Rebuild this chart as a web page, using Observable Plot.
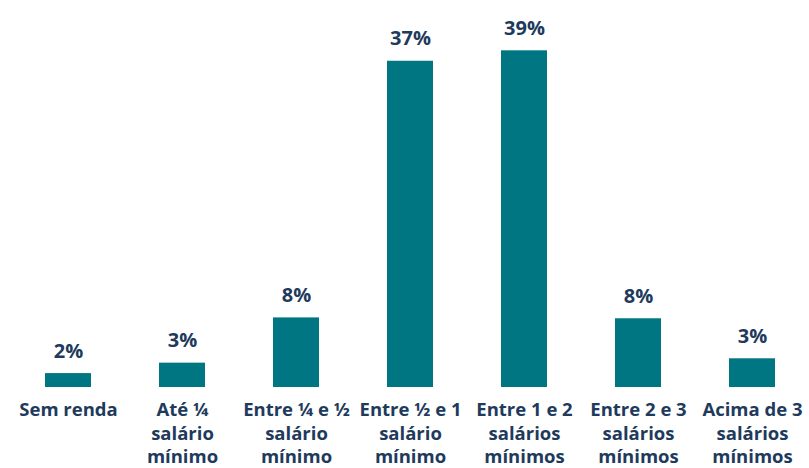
<!DOCTYPE html>
<html>
<head>
<meta charset="utf-8">
<script src="https://cdn.jsdelivr.net/npm/d3@7"></script>
<script src="https://cdn.jsdelivr.net/npm/@observablehq/plot@0.6"></script>
<style>
  html, body { margin: 0; padding: 0; background: #fff; }
  #chart { width: 809px; height: 468px; }
</style>
</head>
<body>
<div id="chart"></div>
<script>
const categories = [
  "Sem renda",
  "Até ¼\nsalário\nmínimo",
  "Entre ¼ e ½\nsalário\nmínimo",
  "Entre ½ e 1\nsalário\nmínimo",
  "Entre 1 e 2\nsalários\nmínimos",
  "Entre 2 e 3\nsalários\nmínimos",
  "Acima de 3\nsalários\nmínimos"
];
const values = [1.6, 2.8, 8.0, 37.5, 38.7, 7.9, 3.3];
const labels = ["2%", "3%", "8%", "37%", "39%", "8%", "3%"];

const data = categories.map((c, i) => ({ category: c, value: values[i], label: labels[i] }));

const navy = "#1e3a5c";
const teal = "#007682";
const font = "'Open Sans', sans-serif";

const chart = Plot.plot({
  width: 809,
  height: 468,
  marginTop: 39,
  marginBottom: 81,
  marginLeft: 0,
  marginRight: 0,
  style: { fontFamily: font, background: "#fff" },
  x: { domain: categories, range: [8, 811], paddingInner: 0.6, paddingOuter: 0.3, label: null },
  y: { domain: [0, 40], axis: null },
  marks: [
    Plot.barY(data, { x: "category", y: "value", fill: teal }),
    Plot.ruleY([0], { stroke: "#bdbdbd", strokeWidth: 2, x1: 0, x2: 809 }),
    Plot.text(data, {
      x: "category", y: "value", text: "label",
      dy: -16, lineAnchor: "bottom",
      fill: navy, fontSize: 20, fontWeight: "bold", fontFamily: font
    }),
    Plot.axisX({
      tickSize: 0, tickPadding: 12,
      fontSize: 18.5, fontWeight: "bold", fill: navy, lineHeight: 1.27,
      fontFamily: font, label: null
    })
  ]
});
document.getElementById("chart").appendChild(chart);
</script>
</body>
</html>
